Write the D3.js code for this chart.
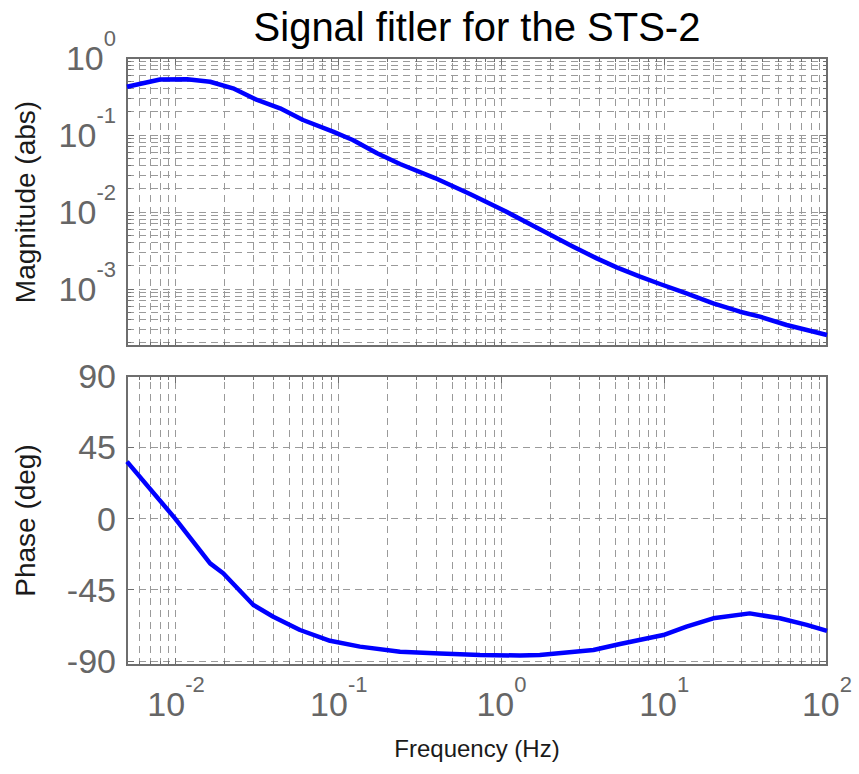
<!DOCTYPE html>
<html><head><meta charset="utf-8">
<script src="https://cdn.jsdelivr.net/npm/d3@7"></script>
<style>
body{margin:0;background:#fff;}
svg{display:block;font-family:"Liberation Sans",Arial,Helvetica,sans-serif;}
</style>
</head><body>
<svg id="chart" width="859" height="774"></svg>
<script>
// ---- data ----
const magFreq = [0.005, 0.00798, 0.0117, 0.0162, 0.0224, 0.0315, 0.0436, 0.0603, 0.0922, 0.122, 0.172, 0.238, 0.39, 0.64, 1.05, 1.72, 2.76, 3.85, 5.1, 7.1, 9.42, 13.7, 20, 29.2, 38.7, 56.5, 100];
const magValue = [0.424, 0.526, 0.529, 0.492, 0.404, 0.285, 0.222, 0.1566, 0.1104, 0.0861, 0.0578, 0.0420, 0.0276, 0.01713, 0.0103, 0.00596, 0.00354, 0.00250, 0.00191, 0.001444, 0.001161, 0.000879, 0.000652, 0.000507, 0.000437, 0.000341, 0.000253];
const phaseFreq = [0.005, 0.00986, 0.0162, 0.0195, 0.0299, 0.0396, 0.0578, 0.0884, 0.135, 0.238, 0.419, 0.738, 1.3, 1.72, 3.67, 5.35, 9.87, 13.7, 20, 33.5, 51.4, 75, 100];
const phaseValue = [35.9, 0.1, -28.3, -34.6, -54.6, -62.0, -70.4, -77.2, -80.9, -84.1, -85.2, -86.2, -86.5, -86.2, -83.0, -79.2, -73.6, -68.3, -63.0, -59.9, -63.0, -67.2, -71.0];
const xTickExp = [-2, -1, 0, 1, 2];
const magTickExp = [0, -1, -2, -3];
const phaseTicks = [90, 45, 0, -45, -90];
const titleText = "Signal fitler for the STS-2";
const xLabelText = "Frequency (Hz)";
const magLabelText = "Magnitude (abs)";
const phaseLabelText = "Phase (deg)";

// ---- layout ----
const L = 127, R = 827;
const magTop = 58, magBot = 346;
const phTop = 376, phBot = 665;
const axisColor = "#6e6e6e", tickText = "#666666", gridColor = "#9a9a9a";
const dash = "7,5";

const svg = d3.select("#chart");
svg.append("rect").attr("width", 859).attr("height", 774).attr("fill", "#fff");

const x = d3.scaleLog().domain([0.005, 100]).range([L, R]);
const yMag = d3.scaleLog().domain([Math.pow(10, -288 / 77), 1]).range([magBot, magTop]);
const yPh = d3.scaleLinear().domain([-92.5, 90]).range([phBot, phTop]);

function logGridValues(lo, hi) {
  const out = [];
  for (let k = -6; k <= 3; k++) {
    for (let m = 1; m <= 9; m++) {
      const v = m * Math.pow(10, k);
      if (v >= lo * 0.9999 && v <= hi * 1.0001) out.push({v, major: m === 1});
    }
  }
  return out;
}
const xGrid = logGridValues(0.005, 100);
const magGrid = logGridValues(yMag.domain()[0], 1);

function drawPanel(top, bot, yScale, yGridVals) {
  const g = svg.append("g");
  g.selectAll(".vg").data(xGrid).join("line")
    .attr("x1", d => x(d.v)).attr("x2", d => x(d.v))
    .attr("y1", bot).attr("y2", top)
    .attr("stroke", gridColor).attr("stroke-width", 1)
    .attr("stroke-dasharray", dash).attr("shape-rendering", "crispEdges");
  g.selectAll(".hg").data(yGridVals).join("line")
    .attr("x1", L).attr("x2", R)
    .attr("y1", d => yScale(d.v)).attr("y2", d => yScale(d.v))
    .attr("stroke", gridColor).attr("stroke-width", 1)
    .attr("stroke-dasharray", dash).attr("shape-rendering", "crispEdges");
  xGrid.forEach(d => {
    const len = d.major ? 7 : 4;
    g.append("line").attr("x1", x(d.v)).attr("x2", x(d.v)).attr("y1", bot).attr("y2", bot - len)
      .attr("stroke", axisColor).attr("shape-rendering", "crispEdges");
    g.append("line").attr("x1", x(d.v)).attr("x2", x(d.v)).attr("y1", top).attr("y2", top + len)
      .attr("stroke", axisColor).attr("shape-rendering", "crispEdges");
  });
  yGridVals.forEach(d => {
    const len = d.major ? 7 : 4;
    g.append("line").attr("x1", L).attr("x2", L + len).attr("y1", yScale(d.v)).attr("y2", yScale(d.v))
      .attr("stroke", axisColor).attr("shape-rendering", "crispEdges");
    g.append("line").attr("x1", R).attr("x2", R - len).attr("y1", yScale(d.v)).attr("y2", yScale(d.v))
      .attr("stroke", axisColor).attr("shape-rendering", "crispEdges");
  });
  g.append("rect").attr("x", L).attr("y", top).attr("width", R - L).attr("height", bot - top)
    .attr("fill", "none").attr("stroke", axisColor).attr("stroke-width", 1.3)
    .attr("shape-rendering", "crispEdges");
  return g;
}

drawPanel(magTop, magBot, yMag, magGrid);
drawPanel(phTop, phBot, yPh, phaseTicks.map(v => ({v, major: true})));

const magData = magFreq.map((f, i) => [f, magValue[i]]);
const phData = phaseFreq.map((f, i) => [f, phaseValue[i]]);
svg.append("path").datum(magData)
  .attr("d", d3.line().x(d => x(d[0])).y(d => yMag(d[1])))
  .attr("fill", "none").attr("stroke", "#0000ff").attr("stroke-width", 4.5)
  .attr("stroke-linejoin", "round");
svg.append("path").datum(phData)
  .attr("d", d3.line().x(d => x(d[0])).y(d => yPh(d[1])))
  .attr("fill", "none").attr("stroke", "#0000ff").attr("stroke-width", 4.5)
  .attr("stroke-linejoin", "round");

// tick labels
const baseFs = 34, supFs = 22, supRaise = 24;
const supText = e => (e < 0 ? "-" + (-e) : String(e));
xTickExp.forEach(e => {
  const t = svg.append("text").attr("x", x(Math.pow(10, e))).attr("y", 716)
    .attr("text-anchor", "middle").attr("fill", tickText).attr("font-size", baseFs);
  t.append("tspan").text("10");
  t.append("tspan").attr("dy", -supRaise).attr("font-size", supFs).text(supText(e));
});
magTickExp.forEach(e => {
  const t = svg.append("text").attr("x", 116).attr("y", yMag(Math.pow(10, e)) + 12)
    .attr("text-anchor", "end").attr("fill", tickText).attr("font-size", baseFs);
  t.append("tspan").text("10");
  t.append("tspan").attr("dy", -supRaise).attr("font-size", supFs).text(supText(e));
});
phaseTicks.forEach(v => {
  svg.append("text").attr("x", 116).attr("y", yPh(v) + 12)
    .attr("text-anchor", "end").attr("fill", tickText).attr("font-size", baseFs)
    .text(String(v));
});

// titles
svg.append("text").attr("x", (L + R) / 2).attr("y", 41).attr("text-anchor", "middle")
  .attr("fill", "#000").attr("font-size", 40).text(titleText);
svg.append("text").attr("x", (L + R) / 2).attr("y", 757).attr("text-anchor", "middle")
  .attr("fill", "#1a1a1a").attr("font-size", 24).text(xLabelText);
svg.append("text").attr("transform", `translate(35,${(magTop + magBot) / 2}) rotate(-90)`)
  .attr("text-anchor", "middle").attr("fill", "#1a1a1a").attr("font-size", 28).text(magLabelText);
svg.append("text").attr("transform", `translate(35,${(phTop + phBot) / 2}) rotate(-90)`)
  .attr("text-anchor", "middle").attr("fill", "#1a1a1a").attr("font-size", 28).text(phaseLabelText);
</script>
</body></html>
